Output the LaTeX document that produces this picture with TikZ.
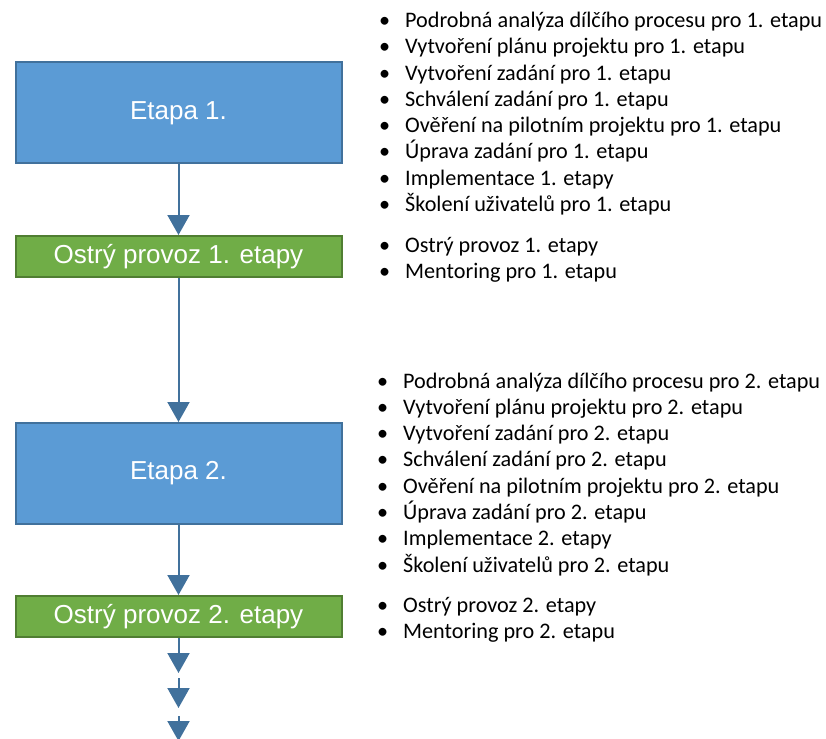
\documentclass[tikz,border=0pt]{standalone}
\usepackage{fontspec}
\setmainfont{Carlito}
\newfontfamily\boxfont{Liberation Sans}
\usetikzlibrary{arrows.meta}
\definecolor{stageblue}{HTML}{5B9BD5}
\definecolor{stageblueline}{HTML}{41719C}
\definecolor{rungreen}{HTML}{70AD47}
\definecolor{rungreenline}{HTML}{507E32}
\definecolor{flowline}{HTML}{41719C}
\tikzset{
  stagebox/.style={draw=stageblueline, fill=stageblue, line width=2pt,
    minimum width=326pt, minimum height=101pt, inner sep=0pt,
    text=white, font=\boxfont\fontsize{26}{30}\selectfont},
  runbox/.style={draw=rungreenline, fill=rungreen, line width=2pt,
    minimum width=326pt, minimum height=41pt, inner sep=0pt,
    text=white, font=\boxfont\fontsize{26}{30}\selectfont},
  flow/.style={draw=flowline, line width=2pt,
    -{Triangle[width=22pt,length=20pt]}},
  item/.style={anchor=base west, inner sep=0pt,
    font=\fontsize{22.2}{26}\selectfont},
}
% one bulleted line: bullet at #2, text at #3, baseline #4
\newcommand{\bulletline}[5]{%
  \node[item] (#1-b) at (#2,#4) {•};
  \node[item] (#1) at (#3,#4) {#5};
}
\begin{document}
\begin{tikzpicture}[x=1pt,y=-1pt]
\useasboundingbox (0,0) rectangle (826,738);

% stage boxes
\node[stagebox] (s1) at (178.5,113) {Etapa 1.};
\node[runbox]   (r1) at (178.5,256.5) {Ostrý provoz 1. etapy};
\node[stagebox] (s2) at (178.5,473.5) {Etapa 2.};
\node[runbox]   (r2) at (178.5,616.5) {Ostrý provoz 2. etapy};

% continuation marks below the last box
\coordinate (c1) at (178.5,673);
\coordinate (c2) at (178.5,678);
\coordinate (c3) at (178.5,708);
\coordinate (c4) at (178.5,716);
\coordinate (c5) at (178.5,741);

\draw[flow] (s1.south) -- (r1.north);
\draw[flow] (r1.south) -- (s2.north);
\draw[flow] (s2.south) -- (r2.north);
\draw[flow] (r2.south) -- (c1);
\draw[flow] (c2) -- (c3);
\draw[flow] (c4) -- (c5);

% activities of stage 1
\bulletline{a1}{379}{405}{27.5}{Podrobná analýza dílčího procesu pro 1. etapu}
\bulletline{a2}{379}{405}{53.8}{Vytvoření plánu projektu pro 1. etapu}
\bulletline{a3}{379}{405}{80.1}{Vytvoření zadání pro 1. etapu}
\bulletline{a4}{379}{405}{106.4}{Schválení zadání pro 1. etapu}
\bulletline{a5}{379}{405}{132.7}{Ověření na pilotním projektu pro 1. etapu}
\bulletline{a6}{379}{405}{159.0}{Úprava zadání pro 1. etapu}
\bulletline{a7}{379}{405}{185.3}{Implementace 1. etapy}
\bulletline{a8}{379}{405}{211.6}{Školení uživatelů pro 1. etapu}
\bulletline{b1}{379}{405}{252.5}{Ostrý provoz 1. etapy}
\bulletline{b2}{379}{405}{278.8}{Mentoring pro 1. etapu}

% activities of stage 2
\bulletline{c1t}{377}{403}{388}{Podrobná analýza dílčího procesu pro 2. etapu}
\bulletline{c2t}{377}{403}{414.3}{Vytvoření plánu projektu pro 2. etapu}
\bulletline{c3t}{377}{403}{440.6}{Vytvoření zadání pro 2. etapu}
\bulletline{c4t}{377}{403}{466.9}{Schválení zadání pro 2. etapu}
\bulletline{c5t}{377}{403}{493.2}{Ověření na pilotním projektu pro 2. etapu}
\bulletline{c6t}{377}{403}{519.5}{Úprava zadání pro 2. etapu}
\bulletline{c7t}{377}{403}{545.8}{Implementace 2. etapy}
\bulletline{c8t}{377}{403}{572.1}{Školení uživatelů pro 2. etapu}
\bulletline{d1t}{377}{403}{612.5}{Ostrý provoz 2. etapy}
\bulletline{d2t}{377}{403}{638.8}{Mentoring pro 2. etapu}
\end{tikzpicture}
\end{document}
